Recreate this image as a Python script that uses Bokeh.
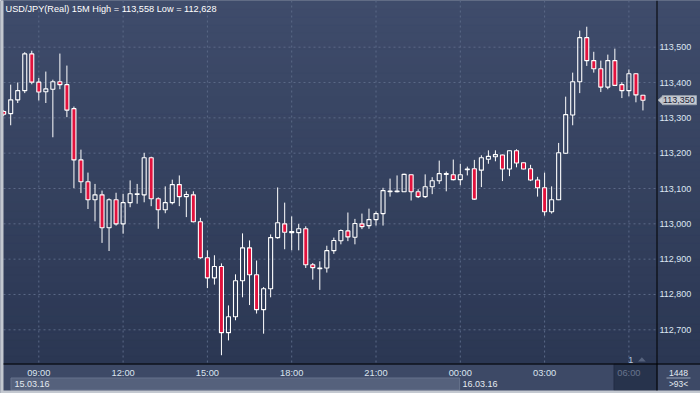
import numpy as np
from bokeh.plotting import figure
from bokeh.models import Range1d
from bokeh.core.properties import value
from bokeh.embed import file_html
from bokeh.resources import INLINE

# ---------------- data (15-minute USD/JPY candles, index 0 = 15.03.16 09:00) ----------------
bars = list(range(-5, 87))
opens = [113.318, 113.312, 113.351, 113.377, 113.481, 113.401, 113.374, 113.381, 113.402, 113.394,
         113.326, 113.181, 113.119, 113.068, 113.082, 112.989, 113.068, 113.000, 113.060, 113.083,
         113.082, 113.187, 113.071, 113.040, 113.060, 113.111, 113.077, 113.082, 113.006, 112.904,
         112.847, 112.879, 112.692, 112.737, 112.839, 112.932, 112.856, 112.757, 112.816, 112.961,
         113.000, 112.975, 112.975, 112.986, 112.884, 112.873, 112.875, 112.924, 112.952, 112.980,
         112.962, 113.000, 112.995, 113.012, 113.029, 113.091, 113.091, 113.091, 113.139, 113.091,
         113.077, 113.105, 113.122, 113.140, 113.139, 113.125, 113.153, 113.156, 113.152, 113.183,
         113.190, 113.195, 113.155, 113.207, 113.173, 113.156, 113.124, 113.102, 113.034, 113.068,
         113.200, 113.308, 113.402, 113.527, 113.462, 113.439, 113.387, 113.462, 113.394, 113.377,
         113.425, 113.364]
highs = [113.322, 113.394, 113.400, 113.486, 113.490, 113.413, 113.431, 113.408, 113.482, 113.448,
         113.332, 113.210, 113.145, 113.113, 113.094, 113.072, 113.088, 113.085, 113.123, 113.113,
         113.201, 113.190, 113.075, 113.106, 113.125, 113.137, 113.092, 113.092, 113.017, 112.925,
         112.911, 112.888, 112.769, 112.857, 112.973, 112.953, 112.896, 112.821, 112.970, 113.103,
         113.060, 113.021, 113.000, 112.993, 112.889, 112.894, 112.938, 112.961, 112.984, 113.032,
         113.014, 113.029, 113.043, 113.035, 113.102, 113.128, 113.137, 113.142, 113.140, 113.098,
         113.140, 113.132, 113.179, 113.148, 113.182, 113.170, 113.162, 113.181, 113.194, 113.208,
         113.208, 113.196, 113.208, 113.211, 113.174, 113.167, 113.133, 113.145, 113.106, 113.229,
         113.360, 113.428, 113.547, 113.558, 113.487, 113.462, 113.479, 113.496, 113.401, 113.437,
         113.427, 113.365]
lows = [113.305, 113.279, 113.342, 113.370, 113.395, 113.349, 113.342, 113.245, 113.381, 113.302,
        113.101, 113.087, 113.042, 113.007, 112.946, 112.923, 112.995, 112.972, 113.047, 113.057,
        113.061, 113.050, 112.986, 113.030, 113.055, 113.050, 113.019, 113.004, 112.901, 112.818,
        112.828, 112.628, 112.670, 112.727, 112.792, 112.770, 112.746, 112.689, 112.792, 112.958,
        112.928, 112.925, 112.925, 112.875, 112.842, 112.813, 112.862, 112.915, 112.942, 112.951,
        112.942, 112.985, 112.986, 112.995, 112.995, 113.077, 113.089, 113.090, 113.066, 113.073,
        113.073, 113.084, 113.113, 113.092, 113.123, 113.109, 113.137, 113.068, 113.104, 113.170,
        113.177, 113.121, 113.135, 113.160, 113.154, 113.121, 113.077, 113.023, 113.029, 113.067,
        113.198, 113.279, 113.370, 113.447, 113.428, 113.373, 113.381, 113.390, 113.356, 113.361,
        113.344, 113.321]
closes = [113.310, 113.351, 113.377, 113.481, 113.401, 113.373, 113.382, 113.402, 113.394, 113.322,
          113.181, 113.119, 113.068, 113.082, 112.989, 113.068, 113.000, 113.060, 113.085, 113.085,
          113.187, 113.071, 113.040, 113.060, 113.111, 113.077, 113.083, 113.006, 112.904, 112.847,
          112.879, 112.692, 112.737, 112.839, 112.932, 112.856, 112.757, 112.816, 112.961, 113.003,
          112.976, 112.978, 112.986, 112.884, 112.876, 112.875, 112.924, 112.953, 112.981, 112.963,
          113.001, 112.992, 113.012, 113.029, 113.094, 113.093, 113.093, 113.140, 113.091, 113.077,
          113.105, 113.122, 113.142, 113.142, 113.125, 113.139, 113.155, 113.070, 113.187, 113.191,
          113.196, 113.155, 113.207, 113.172, 113.155, 113.124, 113.102, 113.034, 113.068, 113.201,
          113.309, 113.402, 113.527, 113.462, 113.439, 113.387, 113.462, 113.392, 113.377, 113.425,
          113.365, 113.350]

time_tick_pos = [0, 12, 24, 36, 48, 60, 72]
time_tick_labels = ["09:00", "12:00", "15:00", "18:00", "21:00", "00:00", "03:00"]
future_tick_pos = [84]
future_tick_labels = ["06:00"]
price_ticks = [112.7, 112.8, 112.9, 113.0, 113.1, 113.2, 113.3, 113.4, 113.5]
date_labels = ["15.03.16", "16.03.16"]
date_pos = [-3.46, 60.31]
date_break = 60
symbol_text = "USD/JPY(Real) 15M"
bar_total_text = "1448"
visible_text = ">93<"
marker_text = "1"
marker_pos = 84.25


def fmt(v):
    return f"{v:.3f}".replace(".", ",")


# ---------------- layout (page pixels -> data) ----------------
W, H = 700, 393
PX_PER_BAR = 7.025
X_ORIGIN = 38.3            # page x of bar 0
PX_PER_YEN = 353.25
Y_REF = 46.7               # page y of 113.500
X0 = -X_ORIGIN / PX_PER_BAR
X1 = X0 + W / PX_PER_BAR
Y1 = 113.5 + Y_REF / PX_PER_YEN
Y0 = Y1 - H / PX_PER_YEN


def px2x(px):
    return X0 + px / PX_PER_BAR


def py2y(py):
    return Y1 - py / PX_PER_YEN


PL, PR, PT, PB = 3, 656.5, 0, 363.5   # plot area on the page
FONT = "Liberation Sans"

p = figure(frame_width=W, frame_height=H, x_range=Range1d(X0, X1), y_range=Range1d(Y0, Y1),
           output_backend="svg", toolbar_location=None,
           x_axis_location=None, y_axis_location=None,
           min_border_left=0, min_border_top=0, min_border_right=0, min_border_bottom=0,
           background_fill_color="#3d4966", border_fill_color="#3d4966",
           outline_line_color=None)
p.xgrid.visible = False
p.ygrid.visible = False

# gradient background of chart area + price scale strip
nb = 45
edges = np.linspace(PB, PT, nb + 1)
c_bot = np.array([0x2b, 0x37, 0x53])
c_top = np.array([0x3f, 0x4c, 0x6b])
cols = []
for k in range(nb):
    t = (k + 0.5) / nb
    c = (c_bot + (c_top - c_bot) * t).round().astype(int)
    cols.append("#%02x%02x%02x" % tuple(c))
p.quad(left=px2x(PL), right=px2x(700), bottom=py2y(edges[:-1]), top=py2y(edges[1:]),
       fill_color=cols, line_color=cols, line_width=1)

# bottom rows: date box and future box
p.quad(left=px2x(10.5), right=date_break - 0.1, bottom=py2y(389.5), top=py2y(377.5),
       fill_color="#55617c", line_color="#67738c", line_width=1)
p.quad(left=px2x(613.5), right=px2x(PR), bottom=py2y(390), top=py2y(PB),
       fill_color="#27334c", line_color="#222d44", line_width=1)

# grid
gx = time_tick_pos + future_tick_pos
p.segment(x0=gx, y0=py2y(PT), x1=gx, y1=py2y(PB), line_color="#5b6987", line_width=1,
          line_dash="2 3")
p.segment(x0=px2x(PL), y0=price_ticks, x1=px2x(PR), y1=price_ticks, line_color="#5b6987",
          line_width=1, line_dash="2 3")

# candles
o = np.array(opens); c = np.array(closes); h = np.array(highs); l = np.array(lows)
x = np.array(bars)
top = np.maximum(o, c); bot = np.minimum(o, c)
up = c >= o
dn = ~up
p.segment(x0=x, y0=top, x1=x, y1=h, line_color="white", line_width=1)
p.segment(x0=x, y0=l, x1=x, y1=bot, line_color="white", line_width=1)
p.vbar(x=x[up], width=0.57, top=top[up], bottom=bot[up], fill_alpha=0,
       line_color="white", line_width=1.1)
p.vbar(x=x[dn], width=0.57, top=top[dn], bottom=bot[dn], fill_color="#e2123d",
       line_color="white", line_width=1.1)

# outer light frame (drawn over the clipped first candle)
p.quad(left=px2x(0), right=px2x(3), bottom=py2y(393), top=py2y(0), fill_color="#c3c8d0",
       line_color=None)
p.quad(left=px2x(0), right=px2x(700), bottom=py2y(393), top=py2y(390), fill_color="#c3c8d0",
       line_color=None)

# black separator lines
p.segment(x0=[px2x(PR)], y0=[py2y(0)], x1=[px2x(PR)], y1=[py2y(390)], line_color="black",
          line_width=1)
p.segment(x0=[px2x(PL)], y0=[py2y(PB)], x1=[px2x(700)], y1=[py2y(PB)], line_color="black",
          line_width=1)

# title
title = f"{symbol_text} High = {fmt(max(highs))} Low = {fmt(min(lows))}"
p.text(x=[px2x(5)], y=[py2y(8.5)], text=[title], text_font=value(FONT),
       text_font_size=value("9.2px"), text_color="white", text_baseline="middle",
       text_align="left")

# price scale labels
p.text(x=[px2x(659)] * len(price_ticks), y=price_ticks, text=[fmt(v) for v in price_ticks],
       text_font=value(FONT), text_font_size=value("9px"), text_color="#dde6f2",
       text_baseline="middle", text_align="left")

# time labels
p.text(x=time_tick_pos, y=[py2y(372.5)] * len(time_tick_pos), text=time_tick_labels,
       text_font=value(FONT), text_font_size=value("9.3px"), text_color="#dbe4ef",
       text_baseline="middle", text_align="center")
p.text(x=future_tick_pos, y=[py2y(372.5)], text=future_tick_labels,
       text_font=value(FONT), text_font_size=value("9.3px"), text_color="#67738c",
       text_baseline="middle", text_align="center")

# date labels
p.text(x=date_pos, y=[py2y(383.5)] * len(date_pos), text=date_labels,
       text_font=value(FONT), text_font_size=value("9px"), text_color="#e4e9f0",
       text_baseline="middle", text_align="left")

# marker "1" with small triangle
p.text(x=[marker_pos], y=[py2y(362)], text=[marker_text], text_font=value(FONT),
       text_font_size=value("9px"), text_color="#b5c6de", text_align="center",
       text_baseline="bottom")
dy3 = 3 / PX_PER_YEN
p.patch(x=[marker_pos + 1.05, marker_pos + 1.6, marker_pos + 2.15],
        y=[py2y(361), py2y(361) + dy3 * 1.4, py2y(361)], fill_color="#56627d", line_color=None)

# last price tag
yc = closes[-1]
dy = 4.5 / PX_PER_YEN
p.quad(left=px2x(662), right=px2x(696), bottom=yc - dy, top=yc + dy, fill_color="#c5cad2",
       line_color="#9ca3ae", line_width=1)
p.patch(x=[px2x(657.5), px2x(662.5), px2x(662.5)], y=[yc, yc + dy, yc - dy],
        fill_color="#c5cad2", line_color="#9ca3ae", line_width=1)
p.quad(left=px2x(662), right=px2x(663), bottom=yc - dy + 0.0015, top=yc + dy - 0.0015,
       fill_color="#c5cad2", line_color=None)
p.text(x=[px2x(662.5)], y=[yc], text=[fmt(yc)], text_font=value(FONT),
       text_font_size=value("9px"), text_color="#1b2234", text_baseline="middle",
       text_align="left")

# bottom-right info cell
p.text(x=[px2x(678)], y=[py2y(372.5)], text=[bar_total_text], text_font=value(FONT),
       text_font_size=value("8.6px"), text_color="#e4e9f0", text_align="center",
       text_baseline="middle")
p.segment(x0=[px2x(666)], y0=[py2y(377.5)], x1=[px2x(690)], y1=[py2y(377.5)],
          line_color="#9aa5b8", line_width=1)
p.text(x=[px2x(678)], y=[py2y(383.5)], text=[visible_text], text_font=value(FONT),
       text_font_size=value("8.4px"), text_color="#e4e9f0", text_align="center",
       text_baseline="middle")

open("out.html", "w").write(file_html(p, INLINE))
